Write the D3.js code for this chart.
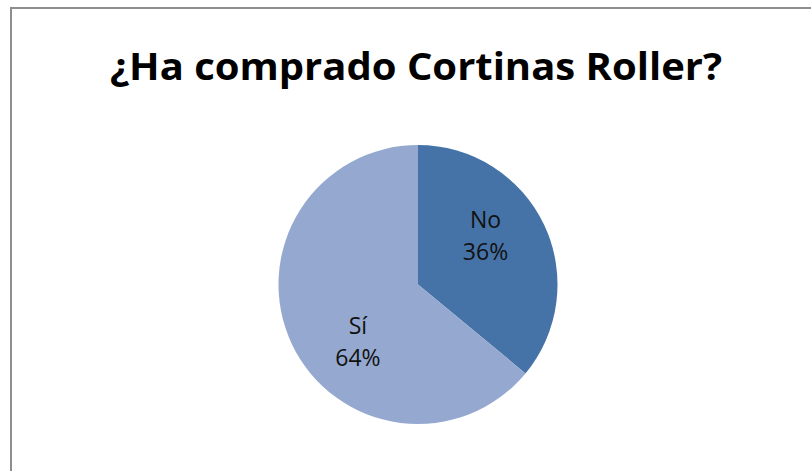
<!DOCTYPE html>
<html>
<head>
<meta charset="utf-8">
<script src="https://cdn.jsdelivr.net/npm/d3@7"></script>
<style>
  html, body { margin: 0; padding: 0; background: #fff; }
  svg { display: block; }
</style>
</head>
<body>
<svg id="chart" width="811" height="471"></svg>
<script>
// Survey answers and their shares
const answers = ["No", "Sí"];
const shares = [36, 64];
const sliceColors = ["#4673a7", "#95a9d0"];
const titleText = "¿Ha comprado Cortinas Roller?";

const svg = d3.select("#chart");
const W = 811, H = 471;

// Chart frame
svg.append("rect")
  .attr("x", 11).attr("y", 8)
  .attr("width", W + 20).attr("height", H + 20)
  .attr("fill", "#fff")
  .attr("stroke", "#8e8e8e")
  .attr("stroke-width", 2);

// Title
svg.append("text")
  .attr("x", 416).attr("y", 80)
  .attr("text-anchor", "middle")
  .attr("font-family", "'Open Sans', 'DejaVu Sans', sans-serif")
  .attr("font-weight", 700)
  .attr("font-size", 38)
  .attr("textLength", 612)
  .attr("lengthAdjust", "spacingAndGlyphs")
  .attr("fill", "#000")
  .text(titleText);

const cx = 418, cy = 284.5, r = 139.5;
const data = answers.map((a, i) => ({ label: a, value: shares[i], color: sliceColors[i] }));

const pie = d3.pie().value(d => d.value).sort(null);
const arc = d3.arc().innerRadius(0).outerRadius(r);
const arcs = pie(data);

const g = svg.append("g").attr("transform", `translate(${cx},${cy})`);

g.selectAll("path.slice")
  .data(arcs)
  .join("path")
  .attr("class", "slice")
  .attr("d", arc)
  .attr("fill", d => d.data.color);

// Data labels placed inside each slice
const labelR = 83;
const fmt = d3.format(".0f");
const labels = g.selectAll("text.lbl")
  .data(arcs)
  .join("text")
  .attr("class", "lbl")
  .attr("text-anchor", "middle")
  .attr("font-family", "'Open Sans', 'DejaVu Sans', sans-serif")
  .attr("font-size", 23)
  .attr("fill", "#111")
  .attr("transform", d => {
    const a = d.startAngle + 0.42 * (d.endAngle - d.startAngle);
    const x = labelR * Math.sin(a), y = -labelR * Math.cos(a);
    return `translate(${x},${y})`;
  });

labels.append("tspan").attr("x", 0).attr("y", -8).text(d => d.data.label);
labels.append("tspan").attr("x", 0).attr("y", 24).text(d => fmt(d.data.value) + "%");
</script>
</body>
</html>
